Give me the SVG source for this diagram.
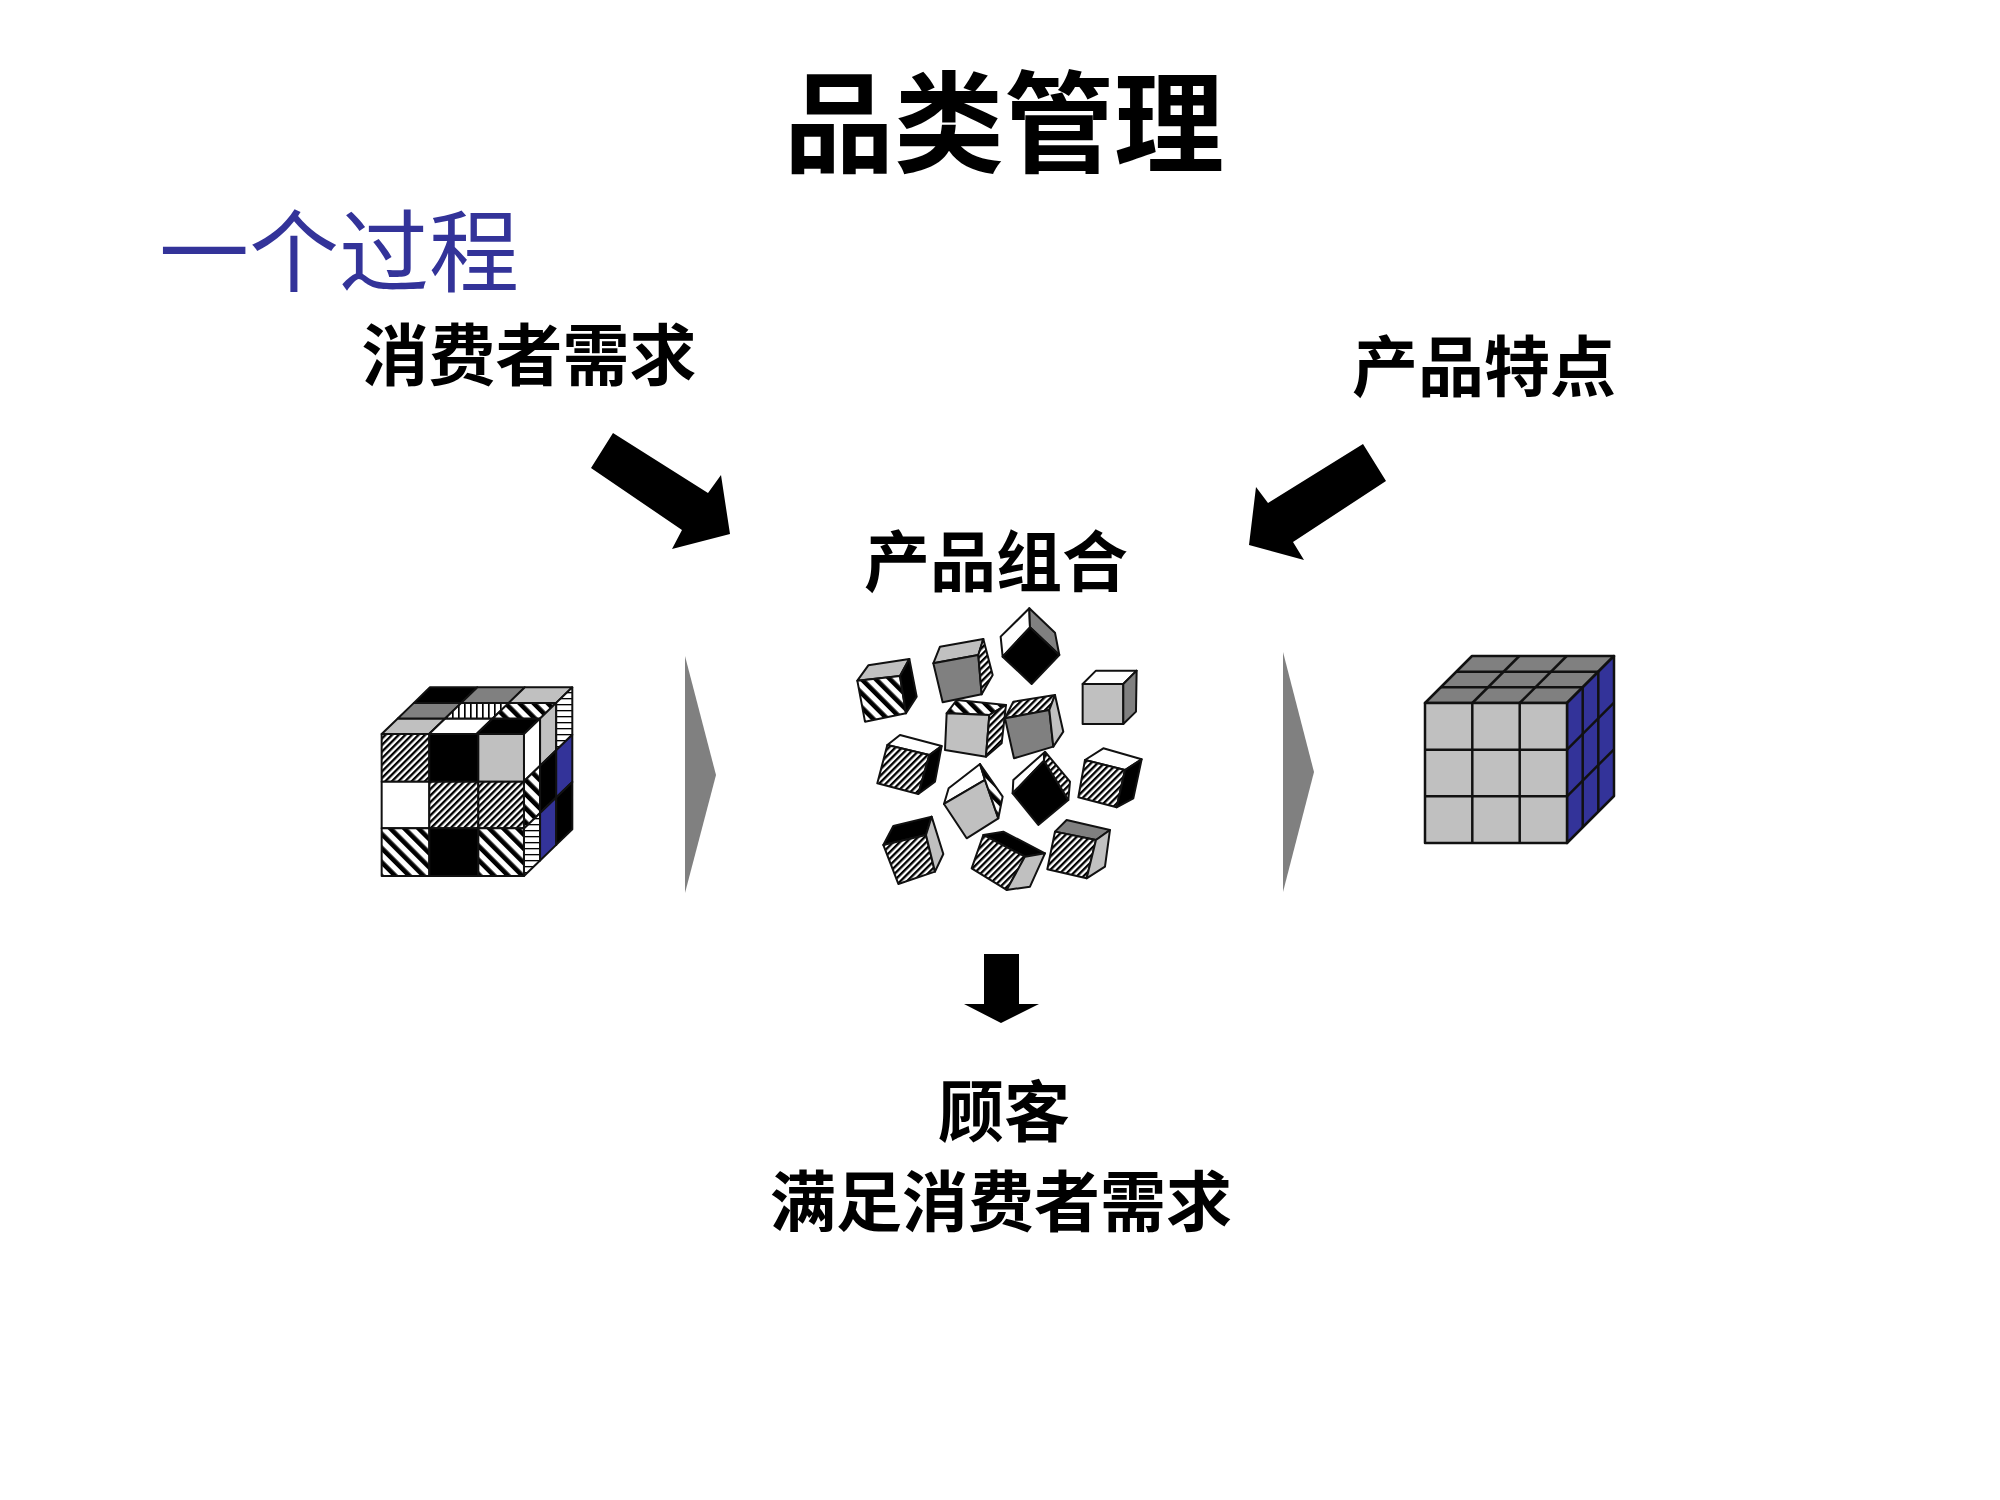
<svg xmlns="http://www.w3.org/2000/svg" width="2000" height="1500" viewBox="0 0 2000 1500">
<style>
text{font-family:"Noto Sans CJK SC","Liberation Sans",sans-serif;font-weight:bold;fill:#000}
.c polygon{stroke:#111;stroke-width:6;stroke-linejoin:round}
.k{fill:#000}.w{fill:#fff}.g{fill:#808080}.l{fill:#c0c0c0}.b{fill:#333399}
.f{fill:url(#fine)}.d{fill:url(#wide)}.v{fill:url(#vs)}.h{fill:url(#hs)}
</style>
<defs>
<pattern id="fine" width="14" height="14" patternUnits="userSpaceOnUse" patternTransform="rotate(45)"><rect width="14" height="14" fill="#fff"/><rect width="7" height="14" fill="#000"/></pattern>
<pattern id="wide" width="30" height="30" patternUnits="userSpaceOnUse" patternTransform="rotate(-45)"><rect width="30" height="30" fill="#fff"/><rect width="14" height="30" fill="#000"/></pattern>
<pattern id="vs" width="18" height="18" patternUnits="userSpaceOnUse"><rect width="18" height="18" fill="#fff"/><rect width="5" height="18" fill="#000"/></pattern>
<pattern id="hs" width="18" height="18" patternUnits="userSpaceOnUse"><rect width="18" height="18" fill="#fff"/><rect width="18" height="4" fill="#000"/></pattern>
</defs>
<rect width="2000" height="1500" fill="#fff"/>
<g id="texts">
<text x="1004" y="164" font-size="110" text-anchor="middle">品类管理</text>
<text x="159" y="285" font-size="90" style="fill:#333399;font-weight:normal">一个过程</text>
<text x="529" y="380" font-size="67" text-anchor="middle">消费者需求</text>
<text x="1484" y="391" font-size="66" text-anchor="middle">产品特点</text>
<text x="996" y="586" font-size="66" text-anchor="middle">产品组合</text>
<text x="1004" y="1136" font-size="66" text-anchor="middle">顾客</text>
<text x="1001" y="1226" font-size="66" text-anchor="middle">满足消费者需求</text>
</g>
<g id="connectors">
<polygon points="613,433 708,493 721,475 730,534 672,549 682,530 591,468" fill="#000"/>
<polygon points="1363,444 1386,481 1293,542 1304,560 1249,545 1256,487 1268,503" fill="#000"/>
<polygon points="984,954 1019,954 1019,1004 1039,1004 1001,1023 964,1004 984,1004" fill="#000"/>
<polygon points="685,656 716,775 685,893" fill="#808080"/>
<polygon points="1283,652 1314,772 1283,892" fill="#808080"/>
</g>
<g id="cube-mixed" class="c" transform="translate(350,650) scale(0.3333)">
<polygon class="f" points="95,252 238,252 238,395 95,395"/>
<polygon class="k" points="238,252 385,252 385,395 238,395"/>
<polygon class="l" points="385,252 522,252 522,395 385,395"/>
<polygon class="w" points="95,395 238,395 238,535 95,535"/>
<polygon class="f" points="238,395 385,395 385,535 238,535"/>
<polygon class="f" points="385,395 522,395 522,535 385,535"/>
<polygon class="d" points="95,535 238,535 238,678 95,678"/>
<polygon class="k" points="238,535 385,535 385,678 238,678"/>
<polygon class="d" points="385,535 522,535 522,678 385,678"/>
<polygon class="l" points="95,252 237.3,252 285.6,205.3 143.3,205.3"/>
<polygon class="w" points="237.3,252 379.7,252 428,205.3 285.6,205.3"/>
<polygon class="k" points="379.7,252 522,252 570.3,205.3 428,205.3"/>
<polygon class="g" points="143.3,205.3 285.6,205.3 334,158.7 191.7,158.7"/>
<polygon class="v" points="285.6,205.3 428,205.3 476.4,158.7 334,158.7"/>
<polygon class="d" points="428,205.3 570.3,205.3 618.7,158.7 476.4,158.7"/>
<polygon class="k" points="191.7,158.7 334,158.7 382.3,112 240,112"/>
<polygon class="g" points="334,158.7 476.4,158.7 524.7,112 382.3,112"/>
<polygon class="l" points="476.4,158.7 618.7,158.7 667,112 524.7,112"/>
<polygon class="w" points="522,252 570.3,205.3 570.3,347.3 522,394"/>
<polygon class="d" points="522,394 570.3,347.3 570.3,489.3 522,536"/>
<polygon class="h" points="522,536 570.3,489.3 570.3,631.3 522,678"/>
<polygon class="l" points="570.3,205.3 618.7,158.7 618.7,300.7 570.3,347.3"/>
<polygon class="k" points="570.3,347.3 618.7,300.7 618.7,442.7 570.3,489.3"/>
<polygon class="b" points="570.3,489.3 618.7,442.7 618.7,584.7 570.3,631.3"/>
<polygon class="h" points="618.7,158.7 667,112 667,254 618.7,300.7"/>
<polygon class="b" points="618.7,300.7 667,254 667,396 618.7,442.7"/>
<polygon class="k" points="618.7,442.7 667,396 667,538 618.7,584.7"/>
</g>
<g id="cubes-scattered" class="c" transform="translate(850,600) scale(0.3333)">
<polygon class="l" points="22,242 55,196 178,177 150,228"/>
<polygon class="d" points="22,242 150,228 168,340 45,365"/>
<polygon class="k" points="150,228 178,177 200,290 168,340"/>
<polygon class="l" points="250,190 270,140 400,117 385,165"/>
<polygon class="g" points="250,190 385,165 395,283 278,307"/>
<polygon class="f" points="385,165 400,117 428,225 395,283"/>
<polygon class="w" points="538,25 452,110 458,170 540,82"/>
<polygon class="g" points="538,25 615,98 628,165 540,82"/>
<polygon class="k" points="540,82 628,165 545,252 458,170"/>
<polygon class="w" points="698,252 738,212 860,212 820,252"/>
<polygon class="l" points="698,252 820,252 820,372 698,372"/>
<polygon class="g" points="820,252 860,212 858,335 820,372"/>
<polygon class="d" points="290,340 320,300 468,315 418,345"/>
<polygon class="l" points="290,340 418,345 408,470 285,450"/>
<polygon class="f" points="418,345 468,315 455,430 408,470"/>
<polygon class="f" points="465,355 490,305 615,285 598,330"/>
<polygon class="g" points="465,355 598,330 610,440 492,475"/>
<polygon class="l" points="598,330 615,285 640,395 610,440"/>
<polygon class="w" points="112,435 150,405 275,438 238,465"/>
<polygon class="f" points="112,435 238,465 205,582 82,550"/>
<polygon class="k" points="238,465 275,438 255,545 205,582"/>
<polygon class="w" points="282,612 296,565 390,492 405,540"/>
<polygon class="l" points="282,612 405,540 445,655 350,715"/>
<polygon class="d" points="390,492 458,590 445,655 405,540"/>
<polygon class="w" points="488,580 490,540 582,458 582,482"/>
<polygon class="k" points="488,580 582,482 655,600 565,675"/>
<polygon class="f" points="582,482 585,455 660,545 655,600"/>
<polygon class="w" points="705,480 760,445 875,478 825,510"/>
<polygon class="f" points="685,592 705,480 825,510 800,622"/>
<polygon class="k" points="825,510 875,478 850,595 800,622"/>
<polygon class="k" points="100,735 130,678 245,650 228,705"/>
<polygon class="f" points="100,735 228,705 255,815 145,852"/>
<polygon class="l" points="228,705 245,650 280,762 255,815"/>
<polygon class="k" points="400,705 460,695 585,760 525,770"/>
<polygon class="f" points="365,805 400,705 525,770 470,870"/>
<polygon class="l" points="525,770 585,760 540,860 470,870"/>
<polygon class="g" points="615,695 650,660 780,690 738,720"/>
<polygon class="f" points="592,808 615,695 738,720 710,835"/>
<polygon class="l" points="738,720 780,690 765,800 710,835"/>
</g>
<g id="cube-solved" stroke="#111" stroke-width="2.5" stroke-linejoin="round">
<polygon fill="#808080" points="1425,703 1567,703 1614,656 1472,656"/>
<polygon fill="#333399" points="1567,703 1614,656 1614,796 1567,843"/>
<rect fill="#c0c0c0" x="1425" y="703" width="142" height="140"/>
<line x1="1472.3" y1="703" x2="1472.3" y2="843"/><line x1="1519.7" y1="703" x2="1519.7" y2="843"/>
<line x1="1425" y1="749.7" x2="1567" y2="749.7"/><line x1="1425" y1="796.3" x2="1567" y2="796.3"/>
<line x1="1440.7" y1="687.3" x2="1582.7" y2="687.3"/><line x1="1456.3" y1="671.7" x2="1598.3" y2="671.7"/>
<line x1="1472.3" y1="703" x2="1519.3" y2="656"/><line x1="1519.7" y1="703" x2="1566.7" y2="656"/>
<line x1="1582.7" y1="687.3" x2="1582.7" y2="827.3"/><line x1="1598.3" y1="671.7" x2="1598.3" y2="811.7"/>
<line x1="1567" y1="749.7" x2="1614" y2="702.7"/><line x1="1567" y1="796.3" x2="1614" y2="749.3"/>
</g>
</svg>
